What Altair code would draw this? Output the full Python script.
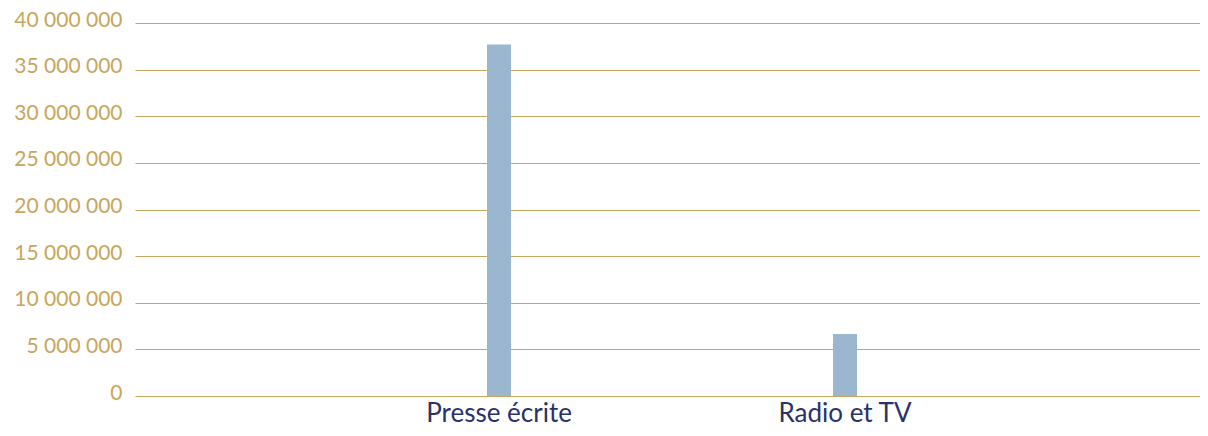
import altair as alt
import pandas as pd

categories = ["Presse écrite", "Radio et TV"]
values = [37700000, 6650000]
y_ticks = [0, 5000000, 10000000, 15000000, 20000000, 25000000, 30000000, 35000000, 40000000]

df = pd.DataFrame({"cat": categories, "val": values})

GOLD = "#C9A55C"
NAVY = "#2B3268"
BAR = "#9AB7CF"
FONT = "Lato"

chart = alt.Chart(df).mark_bar(color=BAR, size=24).encode(
    x=alt.X("cat:N", sort=categories, title=None,
            scale=alt.Scale(paddingInner=0.896, paddingOuter=0.987, align=0.5066),
            axis=alt.Axis(labelAngle=0, labelColor=NAVY, labelFont=FONT, labelFontSize=26,
                          labelPadding=4, ticks=False, domain=False, grid=False)),
    y=alt.Y("val:Q", title=None,
            scale=alt.Scale(domain=[0, 40000000], nice=False),
            axis=alt.Axis(values=y_ticks, labelColor=GOLD, labelFont=FONT, labelFontSize=21,
                          labelPadding=13, labelOffset=-3, ticks=False, domain=False,
                          gridColor=GOLD, gridWidth=1, gridOpacity=1,
                          labelExpr="replace(format(datum.value, ','), /,/g, ' ')")),
).properties(
    width=1065, height=373,
    autosize=alt.AutoSizeParams(type="none"),
    padding={"left": 127, "top": 15, "right": 0, "bottom": 32},
    background="white",
).configure_view(strokeWidth=0)

chart.save("out.html", embed_options={"renderer": "svg", "actions": False})
